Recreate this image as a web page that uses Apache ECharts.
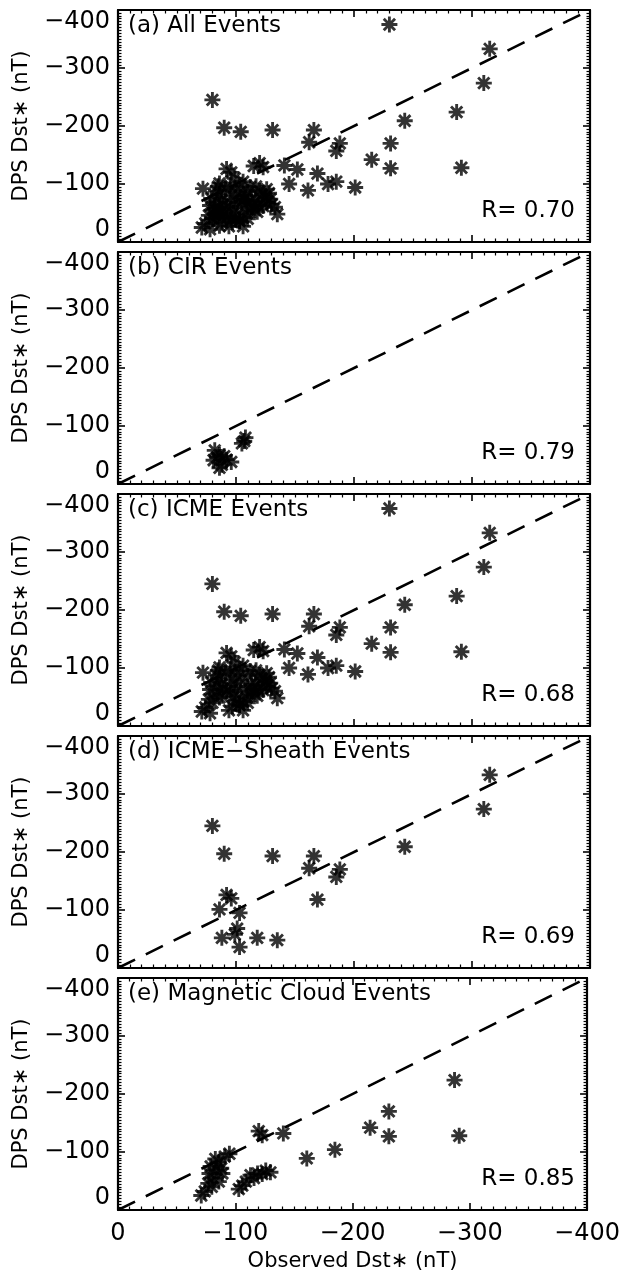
<!DOCTYPE html>
<html>
<head>
<meta charset="utf-8">
<script src="https://cdn.jsdelivr.net/npm/echarts@6/dist/echarts.min.js"></script>
<style>
html,body{margin:0;padding:0;background:#fff;}
#chart{width:623px;height:1277px;}
</style>
</head>
<body>
<div id="chart"></div>
<script>
// ---- data (Observed Dst*, DPS Dst*) in nT ----
const cirEvents = [
  [-82,-58],[-86,-50],[-81,-41],[-92,-42],[-88,-33],[-96,-38],[-84,-46],[-90,-48],
  [-105,-70],[-108,-80],[-107,-74],[-86,-28]
];
const sheathEvents = [
  [-80,-245],[-90,-197],[-131,-193],[-166,-193],[-162,-172],[-185,-157],[-188,-170],
  [-243,-209],[-310,-274],[-315,-333],[-169,-118],[-86,-101],[-92,-126],[-96,-120],
  [-103,-95],[-101,-68],[-99,-58],[-103,-36],[-88,-52],[-118,-52],[-135,-48]
];
const mcEvents = [
  [-287,-224],[-231,-170],[-215,-142],[-231,-127],[-291,-128],[-185,-104],[-161,-89],
  [-141,-132],[-120,-136],[-123,-129],[-95,-97],[-91,-92],[-86,-83],[-79,-75],[-84,-69],
  [-78,-63],[-81,-55],[-77,-46],[-80,-40],[-74,-32],[-71,-25],[-86,-49],[-89,-63],
  [-88,-72],[-83,-88],[-103,-36],[-109,-49],[-113,-60],[-119,-63],[-126,-68],[-130,-65],
  [-123,-62],[-116,-55],[-106,-42]
];
const otherIcmeEvents = [
  [-230,-375],[-104,-190],[-201,-94],[-178,-100],[-152,-125],[-145,-100],[-115,-131],
  [-72,-92],[-106,-104],[-117,-96],[-126,-91],[-129,-74],[-122,-82],[-110,-86],
  [-113,-72],[-108,-62],[-96,-80],[-95,-68],[-110,-40],[-94,-27],[-106,-27],[-98,-50],
  [-100,-88],[-112,-95],[-120,-88],[-125,-78],[-118,-72],[-104,-78],[-100,-45],
  [-114,-64],[-128,-84],[-85,-96],[-99,-110],[-133,-60],[-92,-60],[-97,-34],[-78,-22]
];
const panelTitles = ['(a) All Events','(b) CIR Events','(c) ICME Events','(d) ICME\u2212Sheath Events','(e) Magnetic Cloud Events'];
const rValues = ['0.70','0.79','0.68','0.69','0.85'];
const tickValues = [0,-100,-200,-300,-400];
const identityLine = [[0,0],[-400,-400]];
const xTitle = 'Observed Dst\u2217 (nT)';
const yTitle = 'DPS Dst\u2217 (nT)';

const icmeEvents = sheathEvents.concat(mcEvents, otherIcmeEvents);
const allEvents = cirEvents.concat(icmeEvents);
const panelData = [allEvents, cirEvents, icmeEvents, sheathEvents, mcEvents];

// ---- layout ----
const FONT = 'DejaVu Sans';
const L = 118, W = 472, H = 232, T0 = 10, STEP = 242;
const fmt = v => (tickValues.indexOf(v) < 0 ? '' : (v === 0 ? '0' : '\u2212' + Math.abs(v)));
const star = 'path://M41 0L59 0L59 100L41 100Z M0 41L100 41L100 59L0 59Z ' +
  'M8.3 21L21 8.3L91.7 79L79 91.7Z M79 8.3L91.7 21L21 91.7L8.3 79Z M30 30L70 30L70 70L30 70Z';

const grids = [], xAxes = [], yAxes = [], series = [], titles = [];
function axisBase(extra){
  return Object.assign({
    type:'value', min:-400, max:0, interval:100, inverse:true,
    axisLine:{show:true,onZero:false,lineStyle:{color:'#000',width:2.2}},
    axisTick:{show:true,inside:true,length:7,lineStyle:{color:'#000',width:1.6}},
    minorTick:{show:true,splitNumber:10,length:3.5,lineStyle:{color:'#000',width:1.2}},
    splitLine:{show:false}, minorSplitLine:{show:false}
  }, extra);
}
for (let i = 0; i < 5; i++) {
  const top = T0 + STEP * i;
  grids.push({left:L, top:top, width:W, height:H});
  const last = i === 4;
  xAxes.push(axisBase({
    gridIndex:i, position:'bottom',
    axisLabel:{show:last, formatter:fmt, color:'#000', fontFamily:FONT, fontSize:24, margin:12,
      showMinLabel:true, showMaxLabel:true},
    name: last ? xTitle : '', nameLocation:'middle', nameGap:41,
    nameTextStyle:{color:'#000', fontFamily:FONT, fontSize:21}
  }));
  xAxes.push(axisBase({gridIndex:i, position:'top', axisLabel:{show:false}}));
  yAxes.push(axisBase({
    gridIndex:i, position:'left',
    minorTick:{show:true,splitNumber:20,length:3.5,lineStyle:{color:'#000',width:1.2}},
    axisLabel:{show:true, formatter:fmt, color:'#000', fontFamily:FONT, fontSize:24, margin:8,
      showMinLabel:true, showMaxLabel:true,
      verticalAlignMinLabel:'top', verticalAlignMaxLabel:'bottom'},
    name: yTitle, nameLocation:'middle', nameGap:86, nameRotate:90,
    nameTextStyle:{color:'#000', fontFamily:FONT, fontSize:21}
  }));
  yAxes.push(axisBase({gridIndex:i, position:'right',
    minorTick:{show:true,splitNumber:20,length:3.5,lineStyle:{color:'#000',width:1.2}},
    axisLabel:{show:false}}));
  series.push({
    type:'line', xAxisIndex:2*i, yAxisIndex:2*i, data:identityLine, symbol:'none',
    lineStyle:{color:'#000', width:2.6, type:[19,12]}, silent:true, z:1
  });
  series.push({
    type:'scatter', xAxisIndex:2*i, yAxisIndex:2*i, data:panelData[i],
    symbol:star, symbolSize:16, itemStyle:{color:'#000'}, z:2
  });
  titles.push({text:panelTitles[i], left:128, top:top+5, padding:0,
    textStyle:{color:'#000', fontFamily:FONT, fontSize:23, fontWeight:'normal'}});
  titles.push({text:'R= ' + rValues[i], right:48, top:top+H-42, padding:0,
    textStyle:{color:'#000', fontFamily:FONT, fontSize:23, fontWeight:'normal'}});
}

const chart = echarts.init(document.getElementById('chart'), null, {renderer:'canvas'});
chart.setOption({
  animation:false, backgroundColor:'#fff',
  title:titles, grid:grids, xAxis:xAxes, yAxis:yAxes, series:series
});
</script>
</body>
</html>
